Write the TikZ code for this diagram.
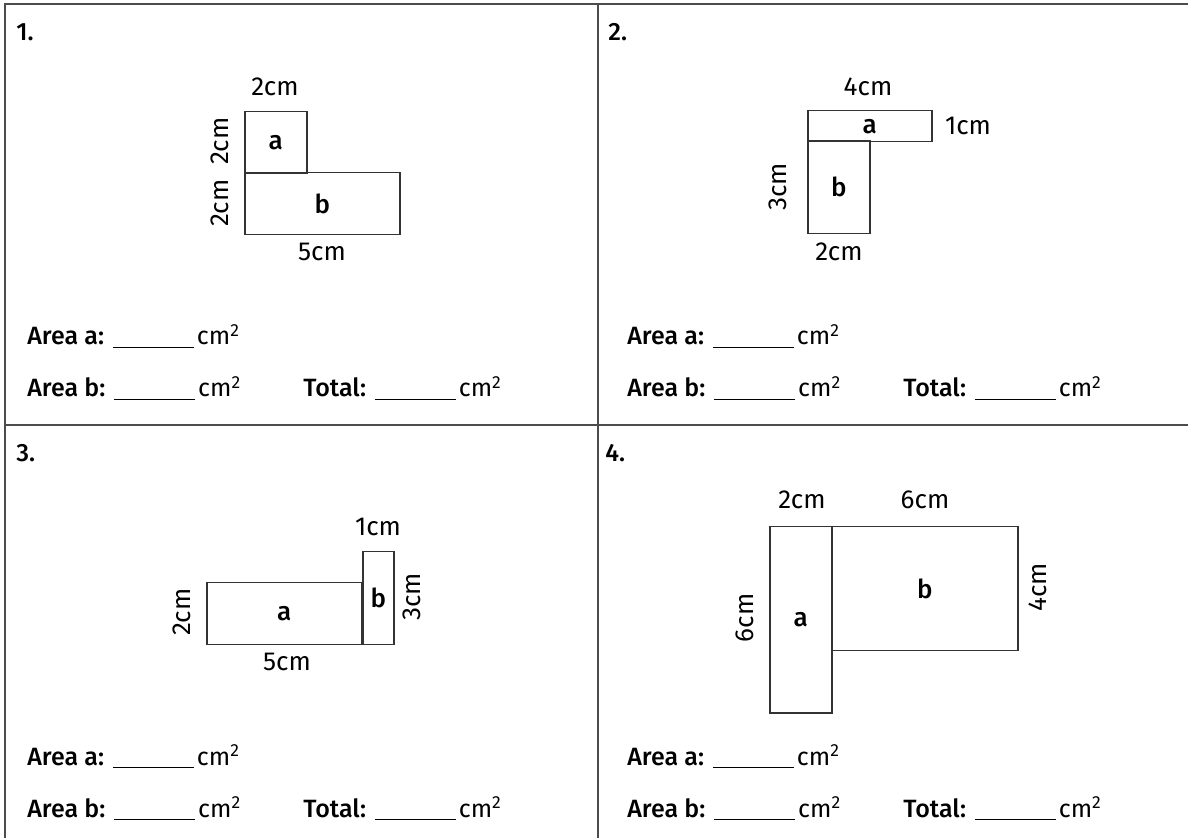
\documentclass[tikz,border=0pt]{standalone}
\usepackage{fontspec}
\setmainfont{Fira Sans}[BoldFont={Fira Sans Medium}]
\def\cmunit{15.5pt}
\newcommand\blank{\rule[-1.6pt]{40.5pt}{0.7pt}\kern1.5pt}
\begin{document}
\begin{tikzpicture}[x=0.5pt,y=-0.5pt,
  part/.style={draw=black!80, line width=0.75pt, inner sep=0pt, anchor=north west,
    font=\bfseries\fontsize{13}{15}\selectfont},
  dim/.style={inner sep=0pt, font=\fontsize{13}{15}\selectfont},
  side/.style={dim, rotate=90},
  row/.style={anchor=base west, inner sep=0pt, font=\fontsize{12.5}{15}\selectfont},
  grid/.style={draw=black!70, line width=1pt}]
\useasboundingbox (0,0) rectangle (1188,838);
\fill[white] (0,0) rectangle (1188,838);
% frame
\draw[grid] (5,838) -- (5,4) -- (1188,4);
\draw[grid] (598,4) -- (598,838);
\draw[grid] (5,425) -- (1188,425);
% numbers
\node[row, font=\bfseries\fontsize{12.5}{15}\selectfont] (n1) at (16,41) {1.};
\node[row, font=\bfseries\fontsize{12.5}{15}\selectfont] (n2) at (608,41) {2.};
\node[row, font=\bfseries\fontsize{12.5}{15}\selectfont] (n3) at (16,462) {3.};
\node[row, font=\bfseries\fontsize{12.5}{15}\selectfont] (n4) at (605,462) {4.};
% 1.
\node[part, minimum width=2*\cmunit, minimum height=2*\cmunit] (p1a) at (244,111) {a};
\node[part, minimum width=5*\cmunit, minimum height=2*\cmunit] (p1b) at (244,172) {b};
\node[dim] (p1top) at (275,87) {2cm};
\node[side] (p1ls) at (220,141) {2cm};
\node[side] (p1lb) at (220,203) {2cm};
\node[dim] (p1bot) at (322,252) {5cm};
% 2.
\node[part, minimum width=4*\cmunit, minimum height=1*\cmunit] (p2a) at (807,110) {a};
\node[part, minimum width=2*\cmunit, minimum height=3*\cmunit] (p2b) at (807,140) {b};
\node[dim] (p2top) at (868,87) {4cm};
\node[dim] (p2rt) at (968,126) {1cm};
\node[side] (p2ls) at (778,187) {3cm};
\node[dim] (p2bot) at (839,252) {2cm};
% 3.
\node[part, minimum width=5*\cmunit, minimum height=2*\cmunit] (p3a) at (206,582) {a};
\node[part, minimum width=1*\cmunit, minimum height=3*\cmunit] (p3b) at (362,551) {b};
\node[dim] (p3top) at (378,527) {1cm};
\node[side] (p3rt) at (412,597) {3cm};
\node[side] (p3ls) at (182,612) {2cm};
\node[dim] (p3bot) at (287,662) {5cm};
% 4.
\node[part, minimum width=2*\cmunit, minimum height=6*\cmunit] (p4a) at (769,526) {a};
\node[part, minimum width=6*\cmunit, minimum height=4*\cmunit] (p4b) at (831,526) {b};
\node[dim] (p4ta) at (802,500) {2cm};
\node[dim] (p4tb) at (925,500) {6cm};
\node[side] (p4rt) at (1038,587) {4cm};
\node[side] (p4ls) at (745,618) {6cm};
% answer rows
\foreach \ox/\oy/\k in {0/0/1, 600/0/2, 0/420/3, 600/420/4} {
  \node[row] (areaa\k) at (27+\ox,345+\oy) {\textbf{Area a:} \blank cm\textsuperscript{2}};
  \node[row] (areab\k) at (27+\ox,397+\oy) {\textbf{Area b:} \blank cm\textsuperscript{2}};
  \node[row] (total\k) at (303+\ox,397+\oy) {\textbf{Total:} \blank cm\textsuperscript{2}};
}
\end{tikzpicture}
\end{document}
